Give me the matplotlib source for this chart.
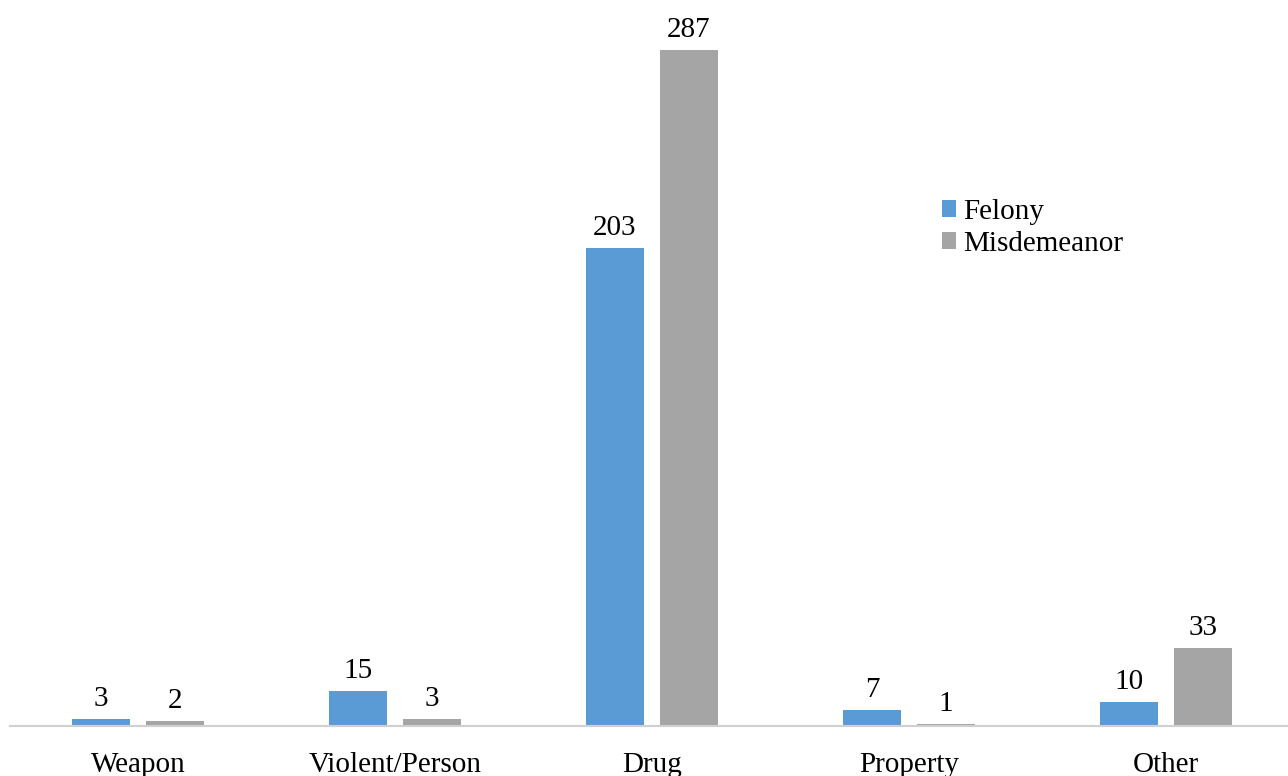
import numpy as np
import matplotlib
matplotlib.use("Agg")
import matplotlib.pyplot as plt

plt.rcParams['font.family'] = ['Liberation Serif', 'DejaVu Serif']

categories = ["Weapon", "Violent/Person", "Drug", "Property", "Other"]
felony = [3, 15, 203, 7, 10]
misdemeanor = [2, 3, 287, 1, 33]

fig = plt.figure(figsize=(12.88, 7.76), dpi=100)
ax = fig.add_axes([9.5/1288, 50/776, 1285/1288, 726/776])

x = np.arange(len(categories))
off = 0.144
w = 0.226
b1 = ax.bar(x - off, felony, w, color="#5b9bd5", label="Felony")
b2 = ax.bar(x + off, misdemeanor, w, color="#a5a5a5", label="Misdemeanor")

for bars, vals in ((b1, felony), (b2, misdemeanor)):
    for r, v in zip(bars, vals):
        ax.annotate(str(v), (r.get_x() + r.get_width() / 2, v),
                    xytext=(0, 5), textcoords="offset points",
                    ha="center", va="bottom", fontsize=21)

ax.set_xlim(-0.5, 4.5)
ax.set_ylim(0, 308)
ax.set_xticks(x)
ax.set_xticklabels(categories, fontsize=21)
ax.tick_params(axis="x", length=0, pad=18.5)
ax.set_yticks([])
for s in ("top", "right", "left"):
    ax.spines[s].set_visible(False)
ax.spines["bottom"].set_color("#d0d0d0")
ax.spines["bottom"].set_linewidth(1.5)

ax.legend(loc="upper left", bbox_to_anchor=(0.705, 0.762), frameon=False,
          fontsize=21, handlelength=0.5, handleheight=0.5, handletextpad=0.25,
          labelspacing=0.2)

fig.savefig("out.png", dpi=100)
